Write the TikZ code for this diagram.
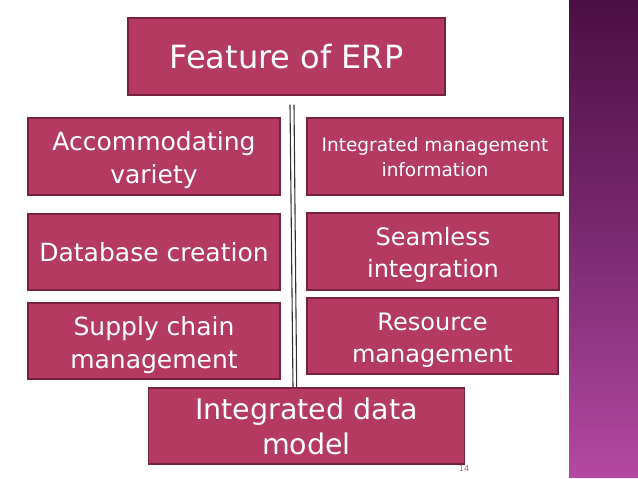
\documentclass[tikz,border=0pt]{standalone}
\usepackage{fontspec}
\setmainfont{DejaVu Sans}
\definecolor{boxfill}{RGB}{180,58,98}
\definecolor{boxline}{RGB}{120,34,66}
\definecolor{stripTop}{RGB}{76,14,66}
\definecolor{stripMid}{RGB}{122,42,112}
\definecolor{stripBot}{RGB}{180,72,162}
\definecolor{pagenum}{RGB}{150,105,140}
\begin{document}
\begin{tikzpicture}[x=1pt,y=-1pt,
  featbox/.style={draw=boxline, line width=1.4pt, fill=boxfill,
    inner sep=0pt, anchor=center},
  boxtext/.style={text=white, align=center, inner sep=0pt, anchor=center},
  title/.style={font=\fontsize{32}{38}\selectfont},
  bigL/.style={font=\fontsize{25}{33}\selectfont},
  bigR/.style={font=\fontsize{24}{32}\selectfont},
  huge/.style={font=\fontsize{28.5}{35}\selectfont},
  small/.style={font=\fontsize{18.5}{25}\selectfont},
  rail/.style={draw=black!80, line width=1.1pt}]
\useasboundingbox (0,0) rectangle (638,479);
\fill[white] (0,0) rectangle (638,479);
\shade[top color=stripTop, bottom color=stripBot, middle color=stripMid] (569,0) rectangle (638,477);
% boxes
\node[featbox, minimum width=317pt, minimum height=77pt] (top) at (286.5,56.5) {};
\node[featbox, minimum width=252pt, minimum height=77pt] (l1) at (154,156.5) {};
\node[featbox, minimum width=256pt, minimum height=77pt] (r1) at (435,156.5) {};
\node[featbox, minimum width=252pt, minimum height=76pt] (l2) at (154,252) {};
\node[featbox, minimum width=252pt, minimum height=77pt] (r2) at (433,251.5) {};
\node[featbox, minimum width=252pt, minimum height=76pt] (l3) at (154,341) {};
\node[featbox, minimum width=251pt, minimum height=76pt] (r3) at (432.5,336) {};
\node[featbox, minimum width=316pt, minimum height=76pt] (bot) at (306.5,426) {};
% texts
\node[boxtext, title] (topT) at (top.center) {Feature of ERP};
\node[boxtext, bigL] (l1T) at ([yshift=-4pt]l1.center) {Accommodating\\variety};
\node[boxtext, small] (r1T) at ([yshift=-1pt]r1.center) {Integrated management\\information};
\node[boxtext, bigL] (l2T) at (l2.center) {Database creation};
\node[boxtext, bigR] (r2T) at ([yshift=-3pt]r2.center) {Seamless\\integration};
\node[boxtext, bigL] (l3T) at ([yshift=-4pt]l3.center) {Supply chain\\management};
\node[boxtext, bigR] (r3T) at ([yshift=-4pt]r3.center) {Resource\\management};
\node[boxtext, huge] (botT) at (bot.center) {Integrated data\\model};
\node[text=pagenum, font=\fontsize{8}{9}\selectfont, inner sep=0pt] (num) at (464,469) {14};
% double rail
\coordinate (a1) at ([xshift=3.5pt, yshift=-9pt]top.south);
\coordinate (a2) at ([xshift=7.5pt, yshift=-9pt]top.south);
\draw[rail] (a1) -- ([xshift=-13.5pt]bot.north);
\draw[rail] (a2) -- ([xshift=-9.8pt]bot.north);
\end{tikzpicture}
\end{document}
